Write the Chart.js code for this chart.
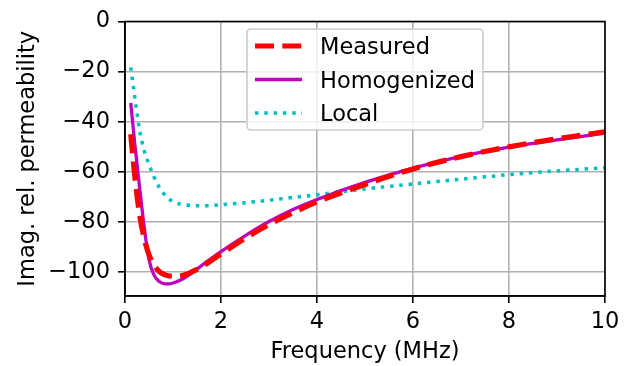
<!DOCTYPE html>
<html>
<head>
<meta charset="utf-8">
<script src="https://cdn.jsdelivr.net/npm/chart.js@4/dist/chart.umd.min.js"></script>
<style>
  html, body { margin: 0; padding: 0; background: #fff; }
  canvas { display: block; }
</style>
</head>
<body>
<canvas id="perm" width="629" height="366"></canvas>
<script>
// Values (frequency in MHz).
const freq = [0.12, 0.2, 0.3, 0.4, 0.5, 0.6, 0.7, 0.8, 0.9, 1.0, 1.2, 1.4, 1.6, 1.8, 2.0, 2.5, 3.0, 3.5, 4.0, 5, 6, 7, 8, 9, 10];
const measured = [-45, -61, -76.5, -86.5, -93, -97, -99.5, -100.8, -101.4, -101.6, -101.3, -99.8, -97.8, -95.3, -92.7, -86.5, -81, -76.3, -72, -65, -58.8, -53.9, -50, -46.8, -44];
const homogenized = [-32.5, -48, -65.5, -82, -95, -101, -103.5, -104.5, -104.7, -104.3, -102.7, -100.2, -97.3, -94.5, -91.8, -85.5, -79.8, -75, -71, -64.2, -58.5, -53.8, -50.1, -47.2, -44.5];
const local = [-18.3, -29.5, -43, -51.5, -57, -61.8, -65.7, -68.5, -70.5, -71.8, -73, -73.4, -73.5, -73.4, -73.1, -72.3, -71.3, -70.2, -69.1, -66.8, -64.8, -62.9, -61.1, -59.6, -58.3];

const seriesNames = ["Measured", "Homogenized", "Local"];
const xTicks = [0, 2, 4, 6, 8, 10];
const yTicks = [0, -20, -40, -60, -80, -100];

const FONT = "'DejaVu Sans', sans-serif";
Chart.defaults.font.family = FONT;
Chart.defaults.font.size = 22.5;
Chart.defaults.color = "#000";

const pts = (vals) => vals.map((v, i) => ({ x: freq[i], y: v }));

// matplotlib-style closed box around the axes
const frame = {
  id: "frame",
  afterDatasetsDraw(chart) {
    const { ctx, chartArea: a } = chart;
    ctx.save();
    ctx.strokeStyle = "#000";
    ctx.lineWidth = 1.6;
    ctx.strokeRect(a.left, a.top, a.right - a.left, a.bottom - a.top);
    ctx.restore();
  },
};

// legend box drawn in the upper middle of the plot, like the reference
const boxLegend = {
  id: "boxLegend",
  afterDatasetsDraw(chart) {
    const ctx = chart.ctx;
    const x0 = 247, y0 = 29, w = 236, h = 101, r = 4;
    ctx.save();
    ctx.beginPath();
    ctx.roundRect(x0, y0, w, h, r);
    ctx.fillStyle = "rgba(255,255,255,0.8)";
    ctx.fill();
    ctx.strokeStyle = "#cccccc";
    ctx.lineWidth = 1.6;
    ctx.stroke();

    const rows = [46, 79.5, 113];
    chart.data.datasets.forEach((ds, i) => {
      const y = rows[i];
      ctx.beginPath();
      ctx.setLineDash(ds.borderDash || []);
      ctx.lineWidth = ds.borderWidth;
      ctx.strokeStyle = ds.borderColor;
      ctx.lineCap = "butt";
      ctx.moveTo(255, y);
      ctx.lineTo(302, y);
      ctx.stroke();
      ctx.setLineDash([]);
      ctx.fillStyle = "#000";
      ctx.font = "22.5px " + FONT;
      ctx.textBaseline = "alphabetic";
      ctx.textAlign = "left";
      ctx.fillText(ds.label, 320, y + 8.2);
    });
    ctx.restore();
  },
};

new Chart(document.getElementById("perm"), {
  type: "line",
  data: {
    datasets: [
      {
        label: seriesNames[0],
        data: pts(measured),
        borderColor: "#ff0000",
        borderWidth: 5.2,
        borderDash: [19, 8.3],
        pointRadius: 0,
        cubicInterpolationMode: "monotone",
      },
      {
        label: seriesNames[1],
        data: pts(homogenized),
        borderColor: "#bf00bf",
        borderWidth: 3.3,
        pointRadius: 0,
        cubicInterpolationMode: "monotone",
      },
      {
        label: seriesNames[2],
        data: pts(local),
        borderColor: "#00bfbf",
        borderWidth: 3.5,
        borderDash: [3.5, 5.8],
        pointRadius: 0,
        cubicInterpolationMode: "monotone",
      },
    ],
  },
  options: {
    responsive: false,
    animation: false,
    layout: { padding: { left: 0, right: 24, top: 16, bottom: 0 } },
    plugins: { legend: { display: false }, tooltip: { enabled: false } },
    scales: {
      x: {
        type: "linear",
        min: 0,
        max: 10,
        afterBuildTicks: (s) => { s.ticks = xTicks.map((v) => ({ value: v })); },
        afterFit: (s) => { s.height = 70; },
        ticks: { padding: 6, maxRotation: 0 },
        grid: { color: "#b0b0b0", lineWidth: 1.6, tickLength: 7, tickColor: "#000", tickWidth: 1.6 },
        border: { color: "#000", width: 1.6 },
        title: { display: true, text: "Frequency (MHz)", padding: { top: 0, bottom: 0 } },
      },
      y: {
        min: -109.5,
        max: 0,
        afterBuildTicks: (s) => { s.ticks = yTicks.map((v) => ({ value: v })); },
        afterFit: (s) => { s.width = 125; },
        ticks: { padding: 8, callback: (v) => String(v).replace("-", "\u2212") },
        grid: { color: "#b0b0b0", lineWidth: 1.6, tickLength: 7, tickColor: "#000", tickWidth: 1.6 },
        border: { color: "#000", width: 1.6 },
        title: { display: true, text: "Imag. rel. permeability", padding: { top: 15, bottom: 0 } },
      },
    },
  },
  plugins: [frame, boxLegend],
});
</script>
</body>
</html>
